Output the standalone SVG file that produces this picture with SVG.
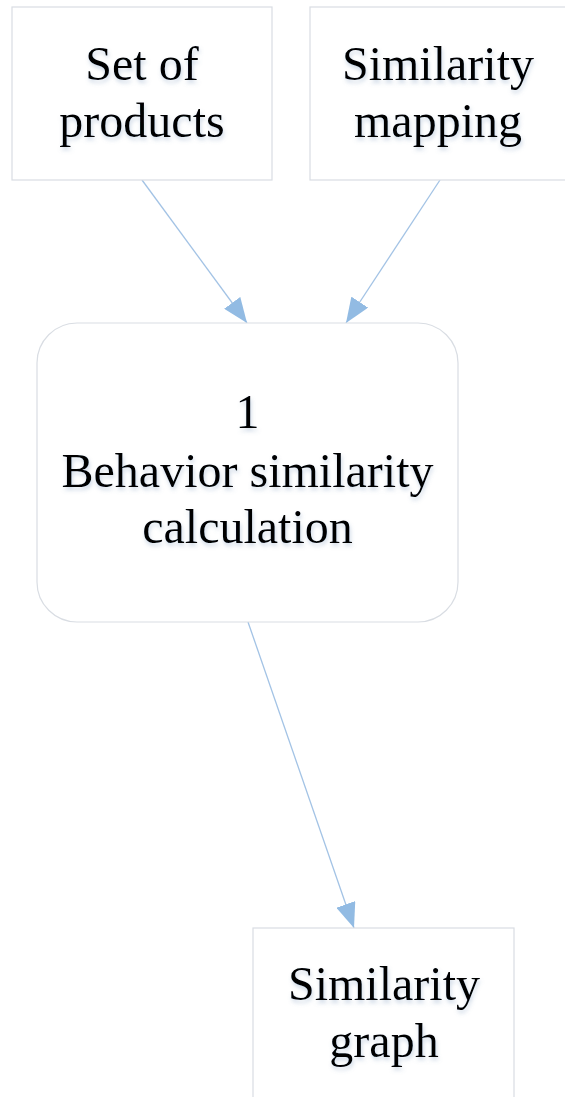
<svg xmlns="http://www.w3.org/2000/svg" width="565" height="1097" viewBox="0 0 565 1097">
  <style>
    .box { fill: #ffffff; stroke: #d9dde3; stroke-width: 1.2; }
    .lbl { font-family: "Liberation Serif", "Times New Roman", serif; font-size: 48px; fill: #000000; text-anchor: middle; filter: url(#ts); }
    .edge { stroke: #a3c3e5; stroke-width: 1.3; fill: none; marker-end: url(#arr); }
  </style>
  <defs>
    <filter id="ts" x="-10%" y="-30%" width="120%" height="160%">
      <feDropShadow dx="1" dy="3" stdDeviation="2" flood-color="#6f8fb5" flood-opacity="0.35"/>
    </filter>
    <marker id="arr" viewBox="0 0 25 20" refX="25" refY="10" markerWidth="25" markerHeight="20" markerUnits="userSpaceOnUse" orient="auto">
      <path d="M0,0 L25,10 L0,20 Z" fill="#92bbe3"/>
    </marker>
  </defs>
  <rect width="565" height="1097" fill="#ffffff"/>
  <g id="connectors">
    <line class="edge" x1="142" y1="180" x2="247" y2="323"/>
    <line class="edge" x1="440" y1="180" x2="346" y2="323"/>
    <line class="edge" x1="248" y1="622" x2="354" y2="928"/>
  </g>
  <g id="set-of-products">
    <rect class="box" x="12" y="7" width="260" height="173"/>
    <text class="lbl" x="142" y="80">Set of</text>
    <text class="lbl" x="142" y="137">products</text>
  </g>
  <g id="similarity-mapping">
    <rect class="box" x="310" y="7" width="260" height="173"/>
    <text class="lbl" x="438" y="80">Similarity</text>
    <text class="lbl" x="438" y="137">mapping</text>
  </g>
  <g id="behavior-similarity-calculation">
    <rect class="box" x="37" y="323" width="421" height="299" rx="40" ry="40"/>
    <text class="lbl" x="247.5" y="428">1</text>
    <text class="lbl" x="247.5" y="487">Behavior similarity</text>
    <text class="lbl" x="247.5" y="543">calculation</text>
  </g>
  <g id="similarity-graph">
    <rect class="box" x="253" y="928" width="261" height="180"/>
    <text class="lbl" x="384" y="1000">Similarity</text>
    <text class="lbl" x="384" y="1057">graph</text>
  </g>
</svg>
